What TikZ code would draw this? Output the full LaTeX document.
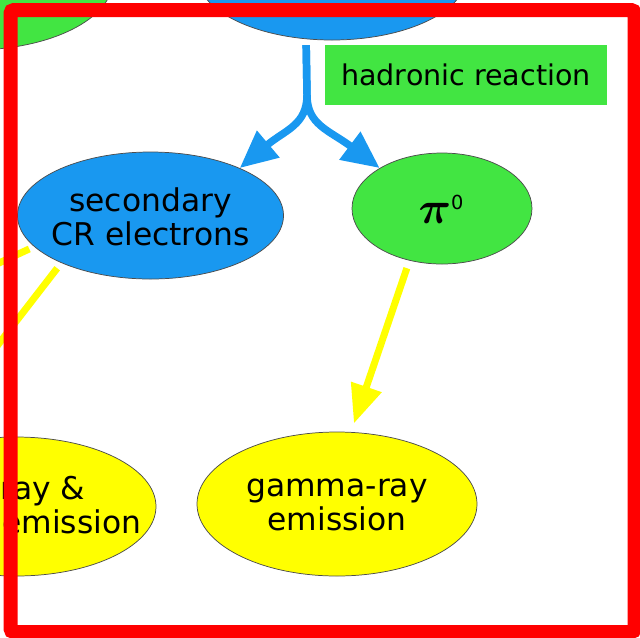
\documentclass[tikz,border=0pt]{standalone}
\usepackage{fontspec}
\setmainfont{DejaVu Sans}
\usetikzlibrary{arrows.meta,shapes.geometric}
\definecolor{cgreen}{RGB}{66,229,66}
\definecolor{cblue}{RGB}{25,152,240}
\definecolor{cyellow}{RGB}{255,255,0}
\definecolor{cred}{RGB}{255,0,0}
\tikzset{
  bubble/.style={ellipse, draw=black!70, line width=0.55pt, inner sep=0pt},
  lbl/.style={align=center, inner sep=0pt, font=\fontsize{23.5}{25.5}\selectfont},
  blueflow/.style={draw=cblue, line width=5.6pt, line cap=butt,
    -{Triangle[length=28pt,width=25pt]}, cblue},
  yflow/.style={draw=cyellow, line width=5.25pt,
    -{Triangle[length=29pt,width=23pt]}, cyellow},
  ylink/.style={draw=cyellow, line width=5.25pt},
  frame/.style={draw=cred, line width=10.5pt, rounded corners=2.5pt}
}
\begin{document}
\begin{tikzpicture}[x=0.75pt,y=-0.75pt]
\useasboundingbox (0,0) rectangle (640,637);
\clip (0,0) rectangle (640,637);

% ellipses
\node[bubble, fill=cgreen, minimum width=210pt, minimum height=105pt] (prielec) at (-27,-20) {};
\node[bubble, fill=cblue, minimum width=202.5pt, minimum height=97.5pt] (prot) at (332,-25) {};
\node[bubble, fill=cblue, minimum width=199.5pt, minimum height=95.25pt] (sec) at (150.5,215.5) {};
\node[bubble, fill=cgreen, minimum width=135pt, minimum height=83.25pt] (pi) at (442,208.5) {};
\node[bubble, fill=cyellow, minimum width=210pt, minimum height=108pt] (gam) at (337,504) {};
\node[bubble, fill=cyellow, minimum width=210pt, minimum height=104.25pt] (xr) at (16,506.5) {};

% labels
\node[lbl] (secT) at (150.5,216.5) {secondary\\CR electrons};
\node[lbl] (gamT) at (337,505) {gamma-ray\\emission};
\node[lbl] (xrT) at (27,505.5) {X-ray \&\\radio emission};
\node[inner sep=0pt] (piT) at (441,209)
  {\scalebox{3.4}{\mathversion{bold}$\pi$}\raisebox{10.5pt}{\fontsize{14.5}{14.5}\selectfont 0}};

% reaction box
\node[fill=cgreen, minimum width=211.5pt, minimum height=45pt, inner sep=0pt,
  font=\fontsize{21.4}{24}\selectfont] (had) at (466,75) {hadronic reaction};

% hadronic reaction: proton branch splits into two products
\coordinate (fork) at (307,95);
\draw[blueflow, shorten <=4.5pt] (prot.248.6) -- (fork)
  .. controls (307,125) and (285,130) .. (sec.28.5);
\draw[blueflow, shorten <=4.5pt] (prot.248.6) -- (fork)
  .. controls (307,125) and (329,130) .. (pi.147);

% decay and emission channels
\coordinate (radio) at (-100,309);
\draw[yflow, shorten <=6pt, shorten >=6.75pt] (pi.238) -- (gam.79);
\draw[yflow, shorten <=5pt] (sec.208) -- (xr.158);
\draw[ylink, shorten <=4pt] (sec.195) -- (radio);

% outer frame
\draw[frame] (10.5,10) rectangle (634.5,632);
\end{tikzpicture}
\end{document}
